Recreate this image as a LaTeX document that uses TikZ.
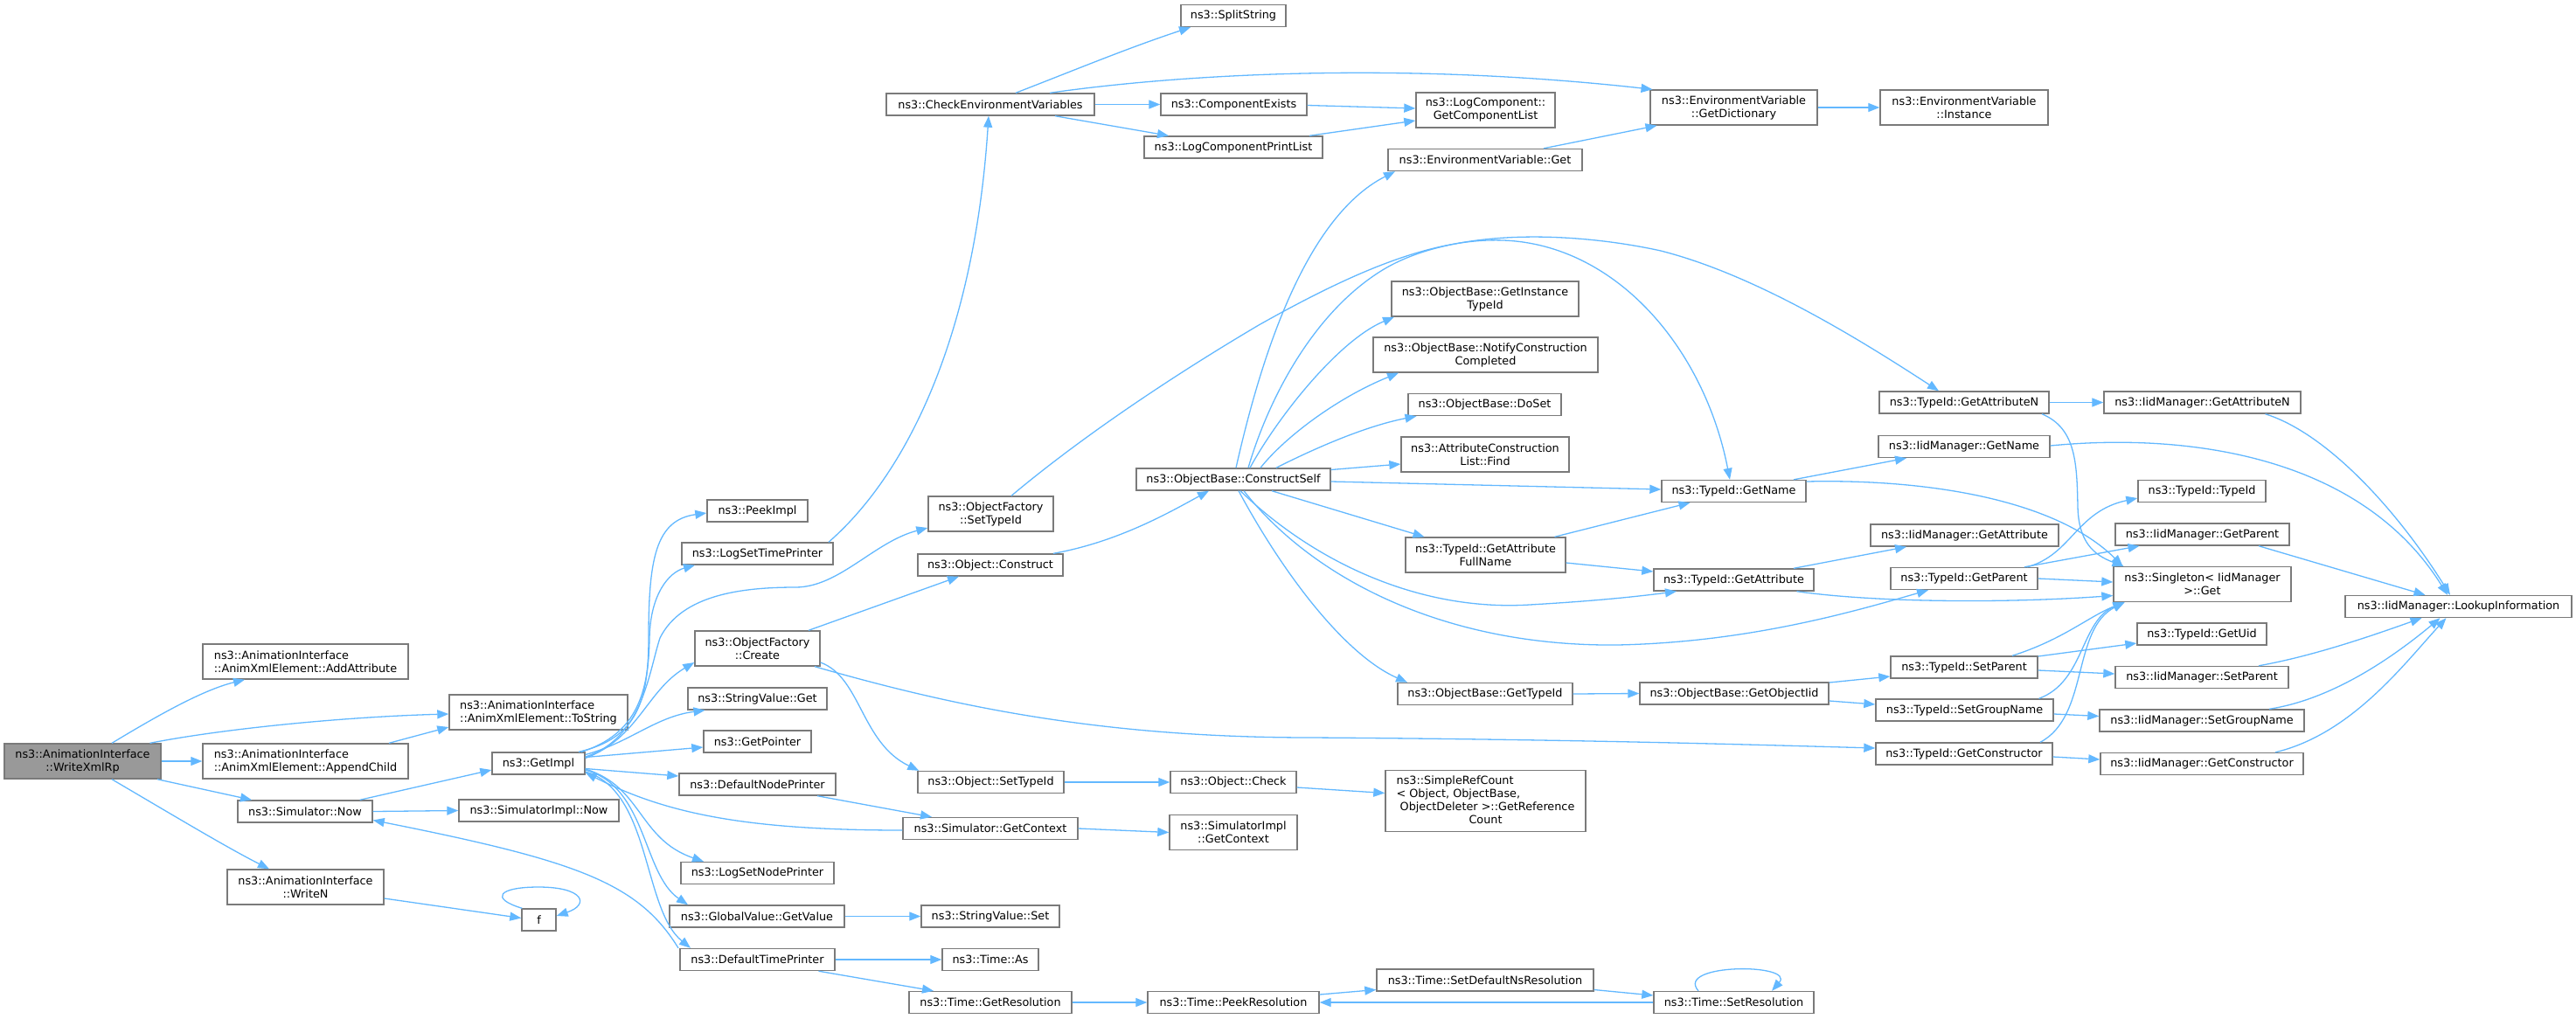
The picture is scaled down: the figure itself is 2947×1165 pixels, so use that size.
\documentclass[tikz,border=0pt]{standalone}
\usepackage{fontspec}
\setmainfont{DejaVu Sans}
\usetikzlibrary{arrows.meta}
\definecolor{eblue}{HTML}{63B8FF}
\definecolor{boxgray}{HTML}{7A7A7A}
\definecolor{rootgray}{HTML}{999999}
\tikzset{
  nd/.style={draw=boxgray, line width=1.4pt, fill=white, inner sep=0pt, align=center, text=black,
    font=\fontsize{12.8}{15}\selectfont},
  one/.style={minimum height=25pt},
  two/.style={minimum height=40pt},
  root/.style={fill=rootgray},
  edge/.style={draw=eblue, line width=1.3pt, -{Triangle[length=13pt,width=10pt]}, fill=none}
}
\begin{document}
\begin{tikzpicture}[x=1pt,y=-1pt]
\useasboundingbox (0,0) rectangle (2947,1165);
% column 0-1
\node[nd,root,two,minimum width=179pt] (wx) at (94.5,871) {ns3::AnimationInterface\\::WriteXmlRp};
\node[nd,two,align=left,minimum width=235pt] (addattr) at (349.5,757) {ns3::AnimationInterface\\::AnimXmlElement::AddAttribute};
\node[nd,two,align=left,minimum width=235pt] (append) at (349.5,871) {ns3::AnimationInterface\\::AnimXmlElement::AppendChild};
\node[nd,one,minimum width=154pt] (simnow) at (349,928.5) {ns3::Simulator::Now};
\node[nd,two,minimum width=179pt] (writen) at (349.5,1015) {ns3::AnimationInterface\\::WriteN};
% column 2
\node[nd,two,align=left,minimum width=204pt] (tostr) at (616,815) {ns3::AnimationInterface\\::AnimXmlElement::ToString};
\node[nd,one,minimum width=106pt] (getimpl) at (616,873.5) {ns3::GetImpl};
\node[nd,one,minimum width=183pt] (simimplnow) at (616.5,927.5) {ns3::SimulatorImpl::Now};
\node[nd,one,minimum width=39pt] (f) at (616.5,1052.5) {f};
% column 3
\node[nd,one,minimum width=115pt] (peekimpl) at (866.5,584.5) {ns3::PeekImpl};
\node[nd,one,minimum width=173pt] (logsettp) at (866.5,633.5) {ns3::LogSetTimePrinter};
\node[nd,two,minimum width=143pt] (ofcreate) at (866.5,742) {ns3::ObjectFactory\\::Create};
\node[nd,one,minimum width=159pt] (svget) at (866.5,799.5) {ns3::StringValue::Get};
\node[nd,one,minimum width=123pt] (getptr) at (866.5,848.5) {ns3::GetPointer};
\node[nd,one,minimum width=179pt] (defnp) at (866.5,897.5) {ns3::DefaultNodePrinter};
\node[nd,one,minimum width=175pt] (logsetnp) at (866.5,999) {ns3::LogSetNodePrinter};
\node[nd,one,minimum width=200pt] (gvget) at (866,1048.5) {ns3::GlobalValue::GetValue};
\node[nd,one,minimum width=177pt] (deftp) at (866.5,1098) {ns3::DefaultTimePrinter};
% column 4
\node[nd,one,minimum width=238pt] (checkenv) at (1133,119.5) {ns3::CheckEnvironmentVariables};
\node[nd,two,minimum width=143pt] (ofsettid) at (1133.5,588) {ns3::ObjectFactory\\::SetTypeId};
\node[nd,one,minimum width=166pt] (objconstruct) at (1133,646.5) {ns3::Object::Construct};
\node[nd,one,minimum width=167pt] (objsettid) at (1133.5,895) {ns3::Object::SetTypeId};
\node[nd,one,minimum width=200pt] (simgetctx) at (1133,948) {ns3::Simulator::GetContext};
\node[nd,one,minimum width=158pt] (svset) at (1133,1048.5) {ns3::StringValue::Set};
\node[nd,one,minimum width=110pt] (timeas) at (1133,1098) {ns3::Time::As};
\node[nd,one,minimum width=186pt] (getres) at (1133,1147) {ns3::Time::GetResolution};
% column 5
\node[nd,one,minimum width=120pt] (splitstr) at (1411,18) {ns3::SplitString};
\node[nd,one,minimum width=167pt] (compexists) at (1411.5,119.5) {ns3::ComponentExists};
\node[nd,one,minimum width=204pt] (logcpl) at (1411,168.5) {ns3::LogComponentPrintList};
\node[nd,one,minimum width=222pt] (constructself) at (1411,548.5) {ns3::ObjectBase::ConstructSelf};
\node[nd,one,minimum width=144pt] (objcheck) at (1411,895) {ns3::Object::Check};
\node[nd,two,minimum width=146pt] (simimplctx) at (1411,952.5) {ns3::SimulatorImpl\\::GetContext};
\node[nd,one,minimum width=196pt] (peekres) at (1411,1147) {ns3::Time::PeekResolution};
% column 6
\node[nd,two,minimum width=159pt] (getcomplist) at (1699.5,126) {ns3::LogComponent::\\GetComponentList};
\node[nd,one,minimum width=222pt] (evget) at (1699,183) {ns3::EnvironmentVariable::Get};
\node[nd,two,minimum width=214pt] (getinsttid) at (1699,342) {ns3::ObjectBase::GetInstance\\TypeId};
\node[nd,two,minimum width=257pt] (notifycc) at (1699.5,406) {ns3::ObjectBase::NotifyConstruction\\Completed};
\node[nd,one,minimum width=175pt] (doset) at (1698.5,463) {ns3::ObjectBase::DoSet};
\node[nd,two,minimum width=192pt] (acfind) at (1699,520) {ns3::AttributeConstruction\\List::Find};
\node[nd,two,minimum width=183pt] (getattrfull) at (1699.5,635) {ns3::TypeId::GetAttribute\\FullName};
\node[nd,one,minimum width=200pt] (obgettid) at (1699,794) {ns3::ObjectBase::GetTypeId};
\node[nd,minimum height=70pt,minimum width=229pt] (simplerefcount) at (1699.5,916.5) {\begin{tabular}{@{}l@{}}ns3::SimpleRefCount\\< Object, ObjectBase,\\\ ObjectDeleter >::GetReference\\\multicolumn{1}{@{}c@{}}{Count}\end{tabular}};
\node[nd,one,minimum width=248pt] (setdefns) at (1699,1121.5) {ns3::Time::SetDefaultNsResolution};
% column 7
\node[nd,two,minimum width=191pt] (getdict) at (1983.5,123) {ns3::EnvironmentVariable\\::GetDictionary};
\node[nd,one,minimum width=165pt] (tidgetname) at (1983.5,562) {ns3::TypeId::GetName};
\node[nd,one,minimum width=183pt] (tidgetattr) at (1983.5,663.5) {ns3::TypeId::GetAttribute};
\node[nd,one,minimum width=216pt] (getobjiid) at (1984,793.5) {ns3::ObjectBase::GetObjectIid};
\node[nd,one,minimum width=183pt] (setres) at (1983.5,1147) {ns3::Time::SetResolution};
% column 8
\node[nd,two,minimum width=192pt] (evinstance) at (2247,123) {ns3::EnvironmentVariable\\::Instance};
\node[nd,one,minimum width=194pt] (tidgetattrn) at (2247,460.5) {ns3::TypeId::GetAttributeN};
\node[nd,one,minimum width=196pt] (iidgetname) at (2247,511) {ns3::IidManager::GetName};
\node[nd,one,minimum width=215pt] (iidgetattr) at (2247.5,612.5) {ns3::IidManager::GetAttribute};
\node[nd,one,minimum width=168pt] (tidgetparent) at (2247,662) {ns3::TypeId::GetParent};
\node[nd,one,minimum width=168pt] (tidsetparent) at (2247,763.5) {ns3::TypeId::SetParent};
\node[nd,one,minimum width=203pt] (tidsetgroup) at (2247.5,812.5) {ns3::TypeId::SetGroupName};
\node[nd,one,minimum width=202pt] (tidgetctor) at (2247,862.5) {ns3::TypeId::GetConstructor};
% column 9
\node[nd,one,minimum width=225pt] (iidgetattrn) at (2519.5,460.5) {ns3::IidManager::GetAttributeN};
\node[nd,one,minimum width=146pt] (tidtid) at (2519,562) {ns3::TypeId::TypeId};
\node[nd,one,minimum width=199pt] (iidgetparent) at (2519.5,611.5) {ns3::IidManager::GetParent};
\node[nd,two,minimum width=203pt] (singleton) at (2519.5,668.5) {ns3::Singleton< IidManager\\>::Get};
\node[nd,one,minimum width=148pt] (tidgetuid) at (2519,725.5) {ns3::TypeId::GetUid};
\node[nd,one,minimum width=198pt] (iidsetparent) at (2519,775) {ns3::IidManager::SetParent};
\node[nd,one,minimum width=234pt] (iidsetgroup) at (2519,824.5) {ns3::IidManager::SetGroupName};
\node[nd,one,minimum width=232pt] (iidgetctor) at (2519,874) {ns3::IidManager::GetConstructor};
% column 10
\node[nd,one,minimum width=259pt] (lookup) at (2812.5,694) {ns3::IidManager::LookupInformation};

% ---------------- edges ----------------
\draw[edge] ([xshift=33.5]wx.north) .. controls (175,822) and (230,790) .. ([xshift=-69.5]addattr.south);
\draw[edge] ([xshift=77]wx.north) .. controls (260,833) and (400,820) .. ([yshift=-2]tostr.west);
\draw[edge] (wx.east) -- (append.west);
\draw[edge] ([xshift=85.5]wx.south) -- ([xshift=-61]simnow.north);
\draw[edge] ([xshift=33.5]wx.south) .. controls (200,934) and (260,970) .. ([xshift=-41.5]writen.north);
\draw[edge] ([xshift=95.5]append.north) -- ([yshift=-17]tostr.west);
\draw[edge] ([xshift=62.7]simnow.north) -- ([yshift=-7.5]getimpl.west);
\draw[edge] (simnow.east) -- (simimplnow.west);
\draw[edge] ([xshift=-90.5]deftp.north) .. controls (730,1010) and (660,985) .. ([yshift=-10]simnow.east);
\draw[edge] ([yshift=-13]writen.east) -- ([yshift=2]f.west);
\draw[edge] ([xshift=1]f.north west) .. controls (560,1028) and (570,1015) .. (616,1015) .. controls (668,1015) and (675,1035) .. ([yshift=4.5]f.east);
% GetImpl fan
\draw[edge] ([xshift=46]getimpl.north) .. controls (730,845) and (742,800) .. (742,730) .. controls (742,640) and (750,595) .. ([yshift=-2.5]peekimpl.west);
\draw[edge] ([xshift=49]getimpl.north) .. controls (730,840) and (742,790) .. (743,730) .. controls (744,680) and (765,655) .. ([xshift=-71.5]logsettp.south);
\draw[edge] ([yshift=7.5]getimpl.east) .. controls (735,845) and (742,770) .. (755,730) .. controls (780,680) and (850,672) .. (910,672) .. controls (960,672) and (1000,620) .. ([yshift=-16]ofsettid.west);
\draw[edge] ([yshift=6]getimpl.east) .. controls (730,845) and (740,790) .. ([yshift=-16]ofcreate.west);
\draw[edge] ([yshift=10]getimpl.east) .. controls (720,850) and (750,820) .. ([xshift=-60]svget.south);
\draw[edge] ([yshift=7]getimpl.east) -- ([yshift=-6.5]getptr.west);
\draw[edge] ([yshift=-6]getimpl.east) -- ([yshift=9.5]defnp.west);
\draw[edge] ([yshift=-6.5]getimpl.east) .. controls (735,900) and (730,960) .. ([xshift=-61.5]logsetnp.north);
\draw[edge] ([yshift=-7.5]getimpl.east) .. controls (740,900) and (735,1000) .. ([xshift=-79]gvget.north);
\draw[edge] ([yshift=-9.5]getimpl.east) .. controls (745,905) and (735,1040) .. ([xshift=-76.5]deftp.north);
\draw[edge] ([yshift=-2]simgetctx.west) .. controls (850,950) and (760,930) .. ([yshift=-10.5]getimpl.east);
% column 3 -> 4
\draw[edge] (gvget.east) -- (svset.west);
\draw[edge] (deftp.east) -- (timeas.west);
\draw[edge] ([xshift=70]deftp.south) -- ([xshift=-65]getres.north);
\draw[edge] (simgetctx.east) -- (simimplctx.west);
\draw[edge] ([xshift=68.5]defnp.south) -- ([xshift=-67]simgetctx.north);
\draw[edge] ([xshift=58.5]ofcreate.north) -- ([xshift=-36]objconstruct.south);
\draw[edge] ([yshift=-16]ofcreate.east) .. controls (985,775) and (985,850) .. ([xshift=2]objsettid.north west);
\draw[edge] ([xshift=65.5]ofcreate.south) .. controls (1080,805) and (1250,844) .. (1500,844) .. controls (1800,846) and (2000,852) .. ([yshift=6.5]tidgetctor.west);
\draw[edge] ([xshift=81.5]logsettp.north) .. controls (1040,540) and (1115,380) .. ([xshift=-2]checkenv.south);
% construct
\draw[edge] ([xshift=72]objconstruct.north) .. controls (1280,620) and (1340,585) .. ([xshift=-28]constructself.south);
\draw[edge] ([xshift=23.5]ofsettid.north) .. controls (1230,506) and (1330,437) .. (1440,372) .. controls (1550,310) and (1640,272) .. (1720,275) .. controls (1850,280) and (1950,400) .. ([xshift=-4.5]tidgetname.north);
\draw[edge] ([xshift=17]constructself.north) .. controls (1450,460) and (1500,360) .. (1580,310) .. controls (1660,260) and (1800,265) .. (1900,287) .. controls (2010,315) and (2130,390) .. ([xshift=-29]tidgetattrn.north);
\draw[edge] ([xshift=3]constructself.north) .. controls (1440,420) and (1490,250) .. ([xshift=-103]evget.south);
\draw[edge] ([xshift=19]constructself.north) .. controls (1460,480) and (1530,390) .. ([xshift=-104]getinsttid.south);
\draw[edge] ([xshift=31]constructself.north) .. controls (1470,500) and (1530,455) .. ([xshift=-99.5]notifycc.south);
\draw[edge] ([xshift=49]constructself.north) .. controls (1500,515) and (1560,488) .. ([xshift=-78]doset.south);
\draw[edge] ([yshift=11]constructself.east) -- ([yshift=-11]acfind.west);
\draw[edge] ([yshift=-2.5]constructself.east) -- ([yshift=2]tidgetname.west);
\draw[edge] ([xshift=44]constructself.south) -- ([xshift=-70]getattrfull.north);
\draw[edge] ([xshift=8]constructself.south) .. controls (1500,640) and (1620,700) .. (1750,692) .. controls (1820,688) and (1870,683) .. ([xshift=-65.5]tidgetattr.south);
\draw[edge] ([xshift=12]constructself.south) .. controls (1500,660) and (1650,740) .. (1850,738) .. controls (2000,735) and (2120,700) .. ([xshift=-41]tidgetparent.south);
\draw[edge] ([xshift=6]constructself.south) .. controls (1470,660) and (1540,750) .. ([xshift=-89]obgettid.north);
% TypeId layer
\draw[edge] ([xshift=79]getattrfull.north) -- ([xshift=-50]tidgetname.south);
\draw[edge] ([yshift=-9]getattrfull.east) -- ([yshift=9.5]tidgetattr.west);
\draw[edge] ([xshift=68.5]tidgetname.north) -- ([xshift=-66]iidgetname.south);
\draw[edge] ([yshift=11]tidgetname.east) .. controls (2200,548) and (2350,570) .. ([xshift=-91]singleton.north);
\draw[edge] (tidgetattrn.east) -- (iidgetattrn.west);
\draw[edge] ([xshift=89]tidgetattrn.south) .. controls (2375,490) and (2376,530) .. (2377,580) .. controls (2378,620) and (2395,635) .. ([xshift=-90]singleton.north);
\draw[edge] ([xshift=68.5]tidgetattr.north) -- ([xshift=-66.5]iidgetattr.south);
\draw[edge] ([xshift=72]tidgetattr.south) .. controls (2150,690) and (2300,690) .. ([yshift=-13]singleton.west);
\draw[edge] ([xshift=69]tidgetparent.north) -- ([xshift=-72]iidgetparent.south);
\draw[edge] (tidgetparent.east) -- ([yshift=2.5]singleton.west);
\draw[edge] ([xshift=72]tidgetparent.north) .. controls (2370,635) and (2375,585) .. ([yshift=-8]tidtid.west);
\draw[edge] ([yshift=-3.5]tidsetparent.east) -- ([yshift=4]iidsetparent.west);
\draw[edge] ([yshift=12.5]tidsetparent.east) -- ([yshift=-10.5]tidgetuid.west);
\draw[edge] ([xshift=55]tidsetparent.north) .. controls (2360,732) and (2390,705) .. ([xshift=-89]singleton.south);
\draw[edge] ([yshift=-4.5]tidsetgroup.east) -- ([yshift=5]iidsetgroup.west);
\draw[edge] ([xshift=85]tidsetgroup.north) .. controls (2385,780) and (2380,710) .. ([xshift=-89]singleton.south);
\draw[edge] ([yshift=-3.5]tidgetctor.east) -- ([yshift=5]iidgetctor.west);
\draw[edge] ([xshift=87]tidgetctor.north) .. controls (2390,820) and (2370,720) .. ([xshift=-89]singleton.south);
\draw[edge] ([yshift=12.5]getobjiid.east) -- ([yshift=-10.5]tidsetparent.west);
\draw[edge] ([yshift=-8.5]getobjiid.east) -- ([yshift=6.5]tidsetgroup.west);
\draw[edge] (obgettid.east) -- (getobjiid.west);
% IidManager -> Lookup
\draw[edge] ([yshift=1]iidgetname.east) .. controls (2500,495) and (2700,520) .. ([xshift=-12.5]lookup.north);
\draw[edge] ([xshift=72]iidgetattrn.south) .. controls (2660,495) and (2740,580) .. ([xshift=-9.5]lookup.north);
\draw[edge] ([xshift=64.5]iidgetparent.south) -- ([xshift=-38]lookup.north);
\draw[edge] ([xshift=65]iidsetparent.north) .. controls (2650,750) and (2720,725) .. ([xshift=-42]lookup.south);
\draw[edge] ([xshift=77]iidsetgroup.north) .. controls (2670,800) and (2740,750) .. ([xshift=-21]lookup.south);
\draw[edge] ([xshift=84]iidgetctor.north) .. controls (2690,840) and (2750,760) .. ([xshift=-14]lookup.south);
% env variables / log
\draw[edge] ([xshift=29]checkenv.north) .. controls (1230,80) and (1290,55) .. ([xshift=-49]splitstr.south);
\draw[edge] ([xshift=68]checkenv.north) .. controls (1350,85) and (1600,70) .. ([xshift=-93]getdict.north);
\draw[edge] (checkenv.east) -- (compexists.west);
\draw[edge] ([xshift=74]checkenv.south) -- ([xshift=-74]logcpl.north);
\draw[edge] ([yshift=-1]compexists.east) -- ([yshift=2]getcomplist.west);
\draw[edge] ([xshift=87]logcpl.north) -- ([yshift=-12]getcomplist.west);
\draw[edge] ([xshift=67]evget.north) -- ([xshift=-88]getdict.south);
\draw[edge] (getdict.east) -- (evinstance.west);
% time
\draw[edge] (getres.east) -- (peekres.west);
\draw[edge] ([yshift=9]peekres.east) -- ([yshift=-11]setdefns.west);
\draw[edge] ([yshift=-11]setdefns.east) -- ([yshift=8]setres.west);
\draw[edge] (setres.west) -- (peekres.east);
\draw[edge] ([xshift=-40.5]setres.north) .. controls (1915,1102) and (2055,1102) .. ([xshift=43.5]setres.north);
% object
\draw[edge] (objsettid.east) -- (objcheck.west);
\draw[edge] ([yshift=-6]objcheck.east) -- ([yshift=9]simplerefcount.west);
\end{tikzpicture}
\end{document}
